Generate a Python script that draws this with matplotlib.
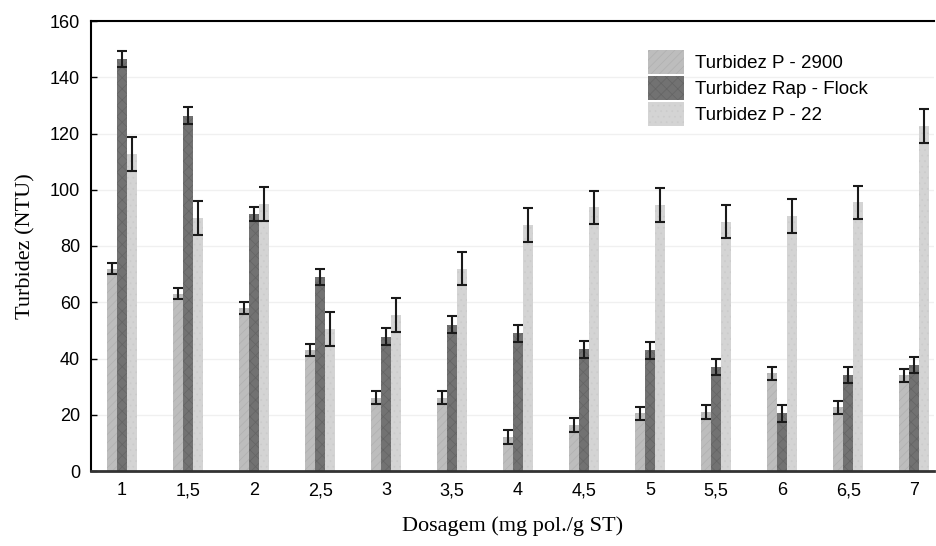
import numpy as np
import matplotlib
matplotlib.use("Agg")
import matplotlib.pyplot as plt

# dosage categories and turbidity readings (NTU)
doses = ['1', '1,5', '2', '2,5', '3', '3,5', '4', '4,5', '5', '5,5', '6', '6,5', '7']
p2900 = [72, 63, 58, 43, 26, 26, 12, 16.5, 20.5, 21, 34.7, 22.6, 34]
p2900_err = [2, 2, 2, 2, 2.3, 2.3, 2.5, 2.5, 2.4, 2.4, 2.3, 2.4, 2.4]
rap = [146.5, 126.3, 91.5, 69, 47.8, 52, 49, 43.3, 43, 37, 20.5, 34.2, 37.7]
rap_err = [3, 3, 2.5, 3, 3, 3, 3, 3, 3, 2.8, 3, 2.9, 2.8]
p22 = [112.8, 90, 95, 50.5, 55.6, 72, 87.5, 93.7, 94.6, 88.7, 90.6, 95.5, 122.8]
p22_err = [6, 6, 6, 6, 6, 6, 6, 6, 6, 6, 6, 6, 6]
labels = ['Turbidez P - 2900', 'Turbidez Rap - Flock', 'Turbidez P - 22']

plt.rcParams['hatch.linewidth'] = 0.5
fig = plt.figure(figsize=(9.36, 5.46), dpi=100)
ax = fig.add_axes([91/936, 75/546, 843/936, 450/546])

x = np.arange(len(doses))
w = 0.15
errkw = dict(ecolor='#1a1a1a', elinewidth=1.5, capsize=3.5, capthick=1.5)
ax.bar(x - w, p2900, w, yerr=p2900_err, color='#bdbdbd', edgecolor='#b0b0b0',
       linewidth=0, hatch='////', error_kw=errkw, label=labels[0], zorder=2)
ax.bar(x, rap, w, yerr=rap_err, color='#727272', edgecolor='#646464',
       linewidth=0, hatch='xxx', error_kw=errkw, label=labels[1], zorder=2)
ax.bar(x + w, p22, w, yerr=p22_err, color='#d4d4d4', edgecolor='#cbcbcb',
       linewidth=0, hatch='...', error_kw=errkw, label=labels[2], zorder=2)

ax.set_xlim(-0.47, 12.3)
ax.set_ylim(0, 160)
ax.set_yticks(range(0, 161, 20))
ax.set_xticks(x)
ax.set_xticklabels(doses)
ax.yaxis.grid(True, color='#f0f0f0', linewidth=1, zorder=0)
ax.set_axisbelow(True)
ax.tick_params(direction='in', length=4, width=1, labelsize=13, pad=8)
for lab in ax.get_xticklabels() + ax.get_yticklabels():
    lab.set_family('Liberation Sans')

ax.spines['right'].set_visible(False)
for s in ['left', 'top']:
    ax.spines[s].set_linewidth(1.5)
ax.spines['bottom'].set_linewidth(2)
ax.spines['bottom'].set_color('#333333')

ax.set_ylabel('Turbidez (NTU)', family='Liberation Serif', fontsize=16, labelpad=10)
ax.set_xlabel('Dosagem (mg pol./g ST)', family='Liberation Serif', fontsize=16, labelpad=12)

fig.legend(loc='upper left', bbox_to_anchor=(648/936, 1 - 50/546), frameon=False,
           borderpad=0, borderaxespad=0, handlelength=1.9, handleheight=1.6,
           labelspacing=0.1, handletextpad=0.6,
           prop={'family': 'Liberation Sans', 'size': 13.5})

fig.savefig('out.png', dpi=100)
